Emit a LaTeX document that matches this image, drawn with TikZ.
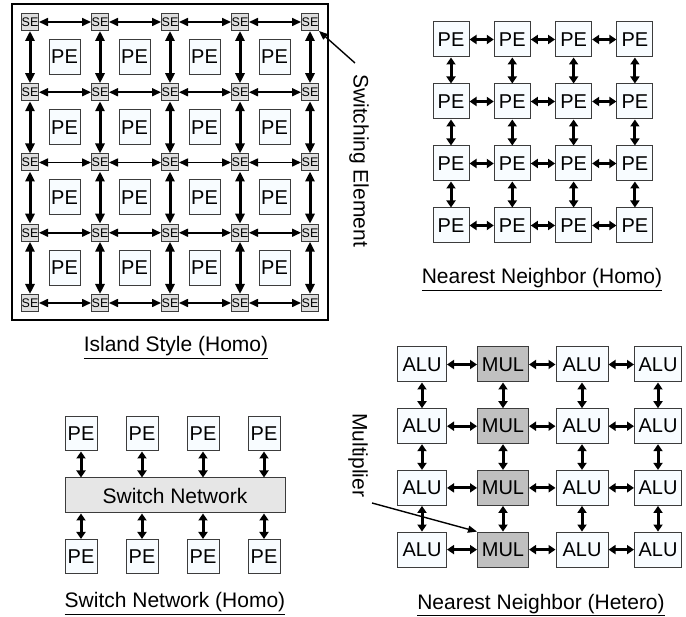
\documentclass[tikz,border=0pt]{standalone}
\usepackage{fontspec}
\setmainfont{Liberation Sans}
\usepackage{xcolor}
\definecolor{pefill}{RGB}{248,252,255}
\definecolor{sefill}{RGB}{222,222,222}
\definecolor{mulfill}{RGB}{192,192,192}
\definecolor{netfill}{RGB}{230,230,230}
\definecolor{edgegray}{RGB}{60,60,60}
\usetikzlibrary{arrows.meta, positioning}
\newcommand{\boxfont}{\fontsize{20}{20}\selectfont}
\newcommand{\capfont}{\fontsize{21}{21}\selectfont}
\tikzset{
  pebox/.style={
    rectangle, draw=edgegray, fill=pefill, line width=1pt,
    minimum width=32pt, minimum height=35pt, inner sep=0pt, font=\boxfont},
  sebox/.style={
    rectangle, draw=edgegray, fill=sefill, line width=1pt,
    minimum size=17pt, inner sep=0pt, font=\fontsize{12.5}{12.5}\selectfont},
  netbox/.style={
    rectangle, draw=edgegray, fill=netfill, line width=1pt,
    minimum width=220pt, minimum height=35pt, inner sep=0pt, font=\capfont},
  caption/.style={anchor=base, inner sep=0pt, font=\capfont},
  sidenote/.style={anchor=west, rotate=-90, inner sep=0pt, font=\capfont},
  hlink/.style={{Triangle[length=9pt,width=8pt]}-{Triangle[length=9pt,width=8pt]}, line width=1.6pt},
  vlink/.style={{Triangle[length=10pt,width=9pt]}-{Triangle[length=10pt,width=9pt]}, line width=3pt},
  nnlink/.style={{Triangle[length=7pt,width=9pt]}-{Triangle[length=7pt,width=9pt]}, line width=3pt},
  pointer/.style={-{Triangle[length=9pt,width=7pt]}, line width=1.4pt},
}
\begin{document}
\begin{tikzpicture}[x=1pt, y=-1pt]
  \useasboundingbox (0,0) rectangle (686,617);
  % island style
  \draw[line width=2.4pt] (12,4) rectangle (328,320);
  \foreach \i in {0,...,4}
    \foreach \j in {0,...,4}
      \node[sebox] (se-\i-\j) at ({30+70*\i},{22+70.25*\j}) {SE};
  \foreach \i in {0,...,3}
    \foreach \j in {0,...,3}
      \node[pebox, minimum width=31pt] (ip-\i-\j) at ({64.5+70*\i},{57+70.25*\j}) {PE};
  \foreach \i/\k in {0/1,1/2,2/3,3/4}
    \foreach \j in {0,...,4} {
      \draw[hlink] (se-\i-\j) -- (se-\k-\j);
      \draw[vlink] (se-\j-\i) -- (se-\j-\k);
    }
  \node[caption] (islandcap) at (176,352) {\underline{Island Style (Homo)}};
  \node[sidenote] (swtxt) at (359,74) {Switching Element};
  \coordinate (swfrom) at (355,63);
  \draw[pointer] (swfrom) -- (se-4-0.south east);

  % nearest neighbor, homo
  \foreach \i in {0,...,3}
    \foreach \j in {0,...,3}
      \node[pebox, minimum width=36pt] (nh-\i-\j) at ({451+61.3*\i},{39.5+62*\j}) {PE};
  \foreach \i/\k in {0/1,1/2,2/3}
    \foreach \j in {0,...,3} {
      \draw[nnlink] (nh-\i-\j) -- (nh-\k-\j);
      \draw[nnlink] (nh-\j-\i) -- (nh-\j-\k);
    }
  \node[caption] (homocap) at (542,284) {\underline{Nearest Neighbor (Homo)}};

  % switch network
  \node[netbox] (swnet) at (175,495.5) {Switch Network};
  \foreach \i in {0,...,3} {
    \node[pebox, minimum height=34pt] (st-\i) at ({81+61*\i},434) {PE};
    \node[pebox, minimum height=34pt] (sb-\i) at ({81+61*\i},556.5) {PE};
    \draw[nnlink] (st-\i) -- (st-\i |- swnet.north);
    \draw[nnlink] (sb-\i) -- (sb-\i |- swnet.south);
  }
  \node[caption] (netcap) at (175,608) {\underline{Switch Network (Homo)}};

  % nearest neighbor, hetero
  \foreach \x/\w/\f/\t [count=\i from 0] in
      {422/49/pefill/ALU, 503/51/mulfill/MUL, 582/52/pefill/ALU, 658/47/pefill/ALU}
    \foreach \j in {0,...,3}
      \node[pebox, minimum width=\w pt, fill=\f] (hx-\i-\j) at (\x,{364.5+61.7*\j}) {\t};
  \foreach \i/\k in {0/1,1/2,2/3}
    \foreach \j in {0,...,3} {
      \draw[nnlink] (hx-\i-\j) -- (hx-\k-\j);
      \draw[nnlink] (hx-\j-\i) -- (hx-\j-\k);
    }
  \node[sidenote] (multxt) at (358,413) {Multiplier};
  \coordinate (mulfrom) at (372,503);
  \draw[pointer] (mulfrom) -- (hx-1-3.north west);
  \node[caption] (heterocap) at (541,609) {\underline{Nearest Neighbor (Hetero)}};
\end{tikzpicture}
\end{document}
